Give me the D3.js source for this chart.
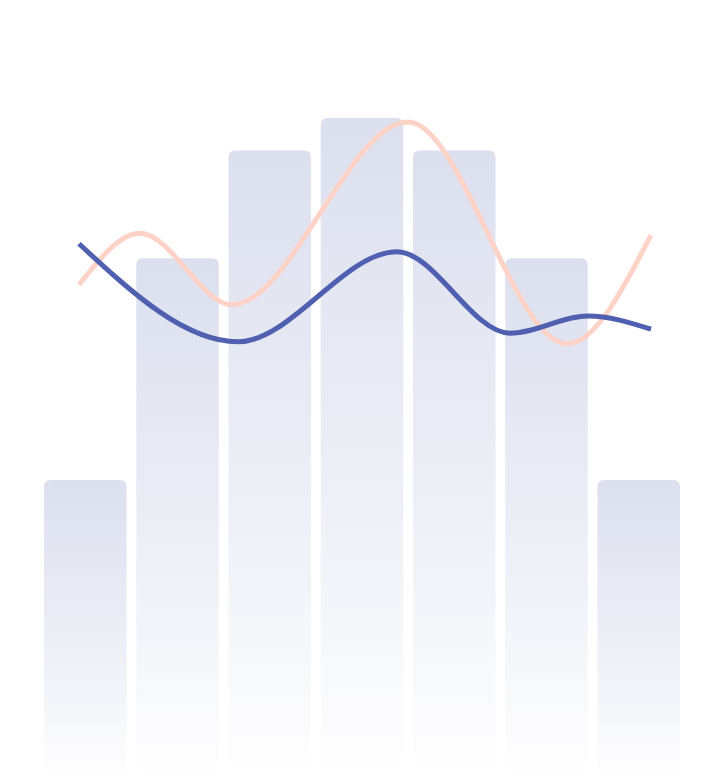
<!DOCTYPE html>
<html>
<head>
<meta charset="utf-8">
<script src="https://cdn.jsdelivr.net/npm/d3@7/dist/d3.min.js"></script>
<style>
  html, body { margin: 0; padding: 0; background: #ffffff; }
  svg { display: block; }
</style>
</head>
<body>
<svg id="chart" width="710" height="780"></svg>
<script>
// ---- data ----
const categories = ["A", "B", "C", "D", "E", "F", "G"];
const barValues = [45.3, 78.8, 95.1, 100, 95.1, 78.8, 45.3];
// line series: position along the category axis (0..6) and value
const peachX = [0, 0.64, 1.605, 3.45, 5.12, 6];
const peachValues = [74.8, 82.6, 71.8, 99.4, 65.9, 82.3];
const blueX = [0, 1.668, 3.336, 4.52, 5.34, 6];
const blueValues = [81.0, 66.2, 79.8, 67.5, 70.1, 68.1];

// ---- layout ----
const svg = d3.select("#chart");

const x = d3.scaleBand().domain(categories).range([44, 680]).paddingInner(0.105).paddingOuter(0);
const xLine = d3.scaleLinear().domain([0, categories.length - 1]).range([79, 651]);
const y = d3.scaleLinear().domain([0, 100]).range([780, 118]);

const defs = svg.append("defs");
const grad = defs.append("linearGradient")
  .attr("id", "barGrad").attr("x1", 0).attr("y1", 0).attr("x2", 0).attr("y2", 1);
grad.append("stop").attr("offset", "0%").attr("stop-color", "#dcdfee").attr("stop-opacity", 1);
grad.append("stop").attr("offset", "55%").attr("stop-color", "#dcdfee").attr("stop-opacity", 0.5);
grad.append("stop").attr("offset", "100%").attr("stop-color", "#dcdfee").attr("stop-opacity", 0);

const r = 7;
function topRounded(x0, y0, w, h) {
  return `M${x0},${y0 + h}V${y0 + r}Q${x0},${y0} ${x0 + r},${y0}H${x0 + w - r}Q${x0 + w},${y0} ${x0 + w},${y0 + r}V${y0 + h}Z`;
}

svg.append("g").selectAll("path")
  .data(categories)
  .join("path")
  .attr("d", (d, i) => topRounded(x(d), y(barValues[i]), x.bandwidth(), y(0) - y(barValues[i])))
  .attr("fill", "url(#barGrad)");

function drawLine(xs, vs, color) {
  const line = d3.line()
    .x((d, i) => xLine(xs[i]))
    .y(d => y(d))
    .curve(d3.curveMonotoneX);
  svg.append("path")
    .datum(vs)
    .attr("d", line)
    .attr("fill", "none")
    .attr("stroke", color)
    .attr("stroke-width", 5);
}

drawLine(peachX, peachValues, "#fdd2c7");
drawLine(blueX, blueValues, "#4f60b0");
</script>
</body>
</html>
